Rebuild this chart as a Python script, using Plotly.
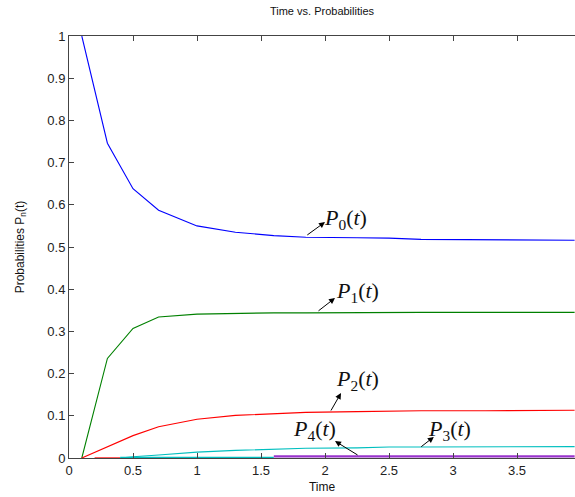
import plotly.graph_objects as go

# ---- data ----
t = [0.1, 0.3, 0.5, 0.7, 1.0, 1.3, 1.6, 1.85, 2.25, 2.5, 2.75, 3.25, 3.95]
p0 = [1.0, 0.746, 0.638, 0.587, 0.550, 0.535, 0.527, 0.523, 0.522, 0.521, 0.518, 0.517, 0.516]
p1 = [0.0, 0.236, 0.307, 0.334, 0.341, 0.343, 0.344, 0.344, 0.345, 0.345, 0.345, 0.345, 0.345]
p2 = [0.0, 0.027, 0.053, 0.074, 0.092, 0.101, 0.105, 0.108, 0.110, 0.111, 0.112, 0.112, 0.113]
t3 = [0.4, 0.5, 0.7, 1.0, 1.3, 1.6, 1.85, 2.25, 2.5, 2.75, 3.25, 3.95]
p3 = [0.0, 0.003, 0.007, 0.014, 0.018, 0.021, 0.023, 0.024, 0.026, 0.026, 0.026, 0.027]
# near-zero higher-order states visible along the bottom axis
t5 = [0.2, 0.4]
p5 = [0.0, 0.0]
t6 = [0.4, 1.6]
p6 = [0.001, 0.001]
t4 = [1.6, 3.95]
p4 = [0.004, 0.004]

xticks = [0, 0.5, 1, 1.5, 2, 2.5, 3, 3.5]
yticks = [0, 0.1, 0.2, 0.3, 0.4, 0.5, 0.6, 0.7, 0.8, 0.9, 1]

# labels: text position, arrow head, arrow tail (data units)
label_sub = ["0", "1", "2", "4", "3"]
label_tx = [1.975, 2.07, 2.07, 1.735, 2.79]
label_ty = [0.566, 0.394, 0.184, 0.066, 0.066]
arrow_hx = [2.0, 2.078, 2.125, 2.078, 2.85]
arrow_hy = [0.559, 0.379, 0.154, 0.040, 0.050]
arrow_tx = [1.85, 1.9375, 2.04, 2.266, 2.74]
arrow_ty = [0.526, 0.346, 0.109, 0.005, 0.024]

fig = go.Figure()
series = [
    (t, p0, "#0000ff", 1.1),
    (t, p1, "#008000", 1.1),
    (t5, p5, "#ff0000", 1.3),
    (t, p2, "#ff0000", 1.1),
    (t6, p6, "#00bfbf", 1.6),
    (t3, p3, "#00bfbf", 1.1),
    (t4, p4, "#9933cc", 2.2),
]
for xs, ys, c, w in series:
    fig.add_trace(go.Scatter(x=xs, y=ys, mode="lines", line=dict(color=c, width=w),
                             showlegend=False, hoverinfo="skip"))

for i in range(len(label_sub)):
    fig.add_annotation(x=label_tx[i], y=label_ty[i], xref="x", yref="y",
                       text="<i>P</i><sub>%s</sub>(<i>t</i>)" % label_sub[i],
                       showarrow=False, xanchor="left", yanchor="middle",
                       font=dict(family="Liberation Serif", size=22, color="#111"))
    fig.add_annotation(x=arrow_hx[i], y=arrow_hy[i], ax=arrow_tx[i], ay=arrow_ty[i],
                       xref="x", yref="y", axref="x", ayref="y", text="",
                       showarrow=True, arrowhead=2, arrowsize=1.2, arrowwidth=1,
                       arrowcolor="#000")

axis_font = dict(family="Liberation Sans, Arial", size=13, color="#222")
fig.update_xaxes(range=[0, 3.953], tickvals=xticks, ticks="inside", ticklen=5,
                 tickcolor="#444", showline=True, linecolor="#444", linewidth=1,
                 mirror="ticks", showgrid=False, zeroline=False, tickfont=axis_font,
                 title=dict(text="Time", font=dict(family="Liberation Sans, Arial", size=12, color="#111"),
                            standoff=6))
fig.update_yaxes(range=[0, 1], tickvals=yticks, ticks="inside", ticklen=5,
                 tickcolor="#444", showline=True, linecolor="#444", linewidth=1,
                 mirror=False, showgrid=False, zeroline=False, tickfont=axis_font,
                 title=dict(text="Probabilities P<sub>n</sub>(t)",
                            font=dict(family="Liberation Sans, Arial", size=12, color="#111"),
                            standoff=20))
fig.update_layout(
    width=575, height=497,
    margin=dict(l=69, r=0, t=36, b=39, autoexpand=False),
    paper_bgcolor="white", plot_bgcolor="white",
    title=dict(text="Time vs. Probabilities", x=0.56, xanchor="center",
               y=1 - 11 / 497, yanchor="middle", yref="container",
               font=dict(family="Liberation Sans, Arial", size=11, color="#111")),
)
fig.write_html("out.html", config={"displayModeBar": False},
               post_script="document.body.style.margin='0';")
